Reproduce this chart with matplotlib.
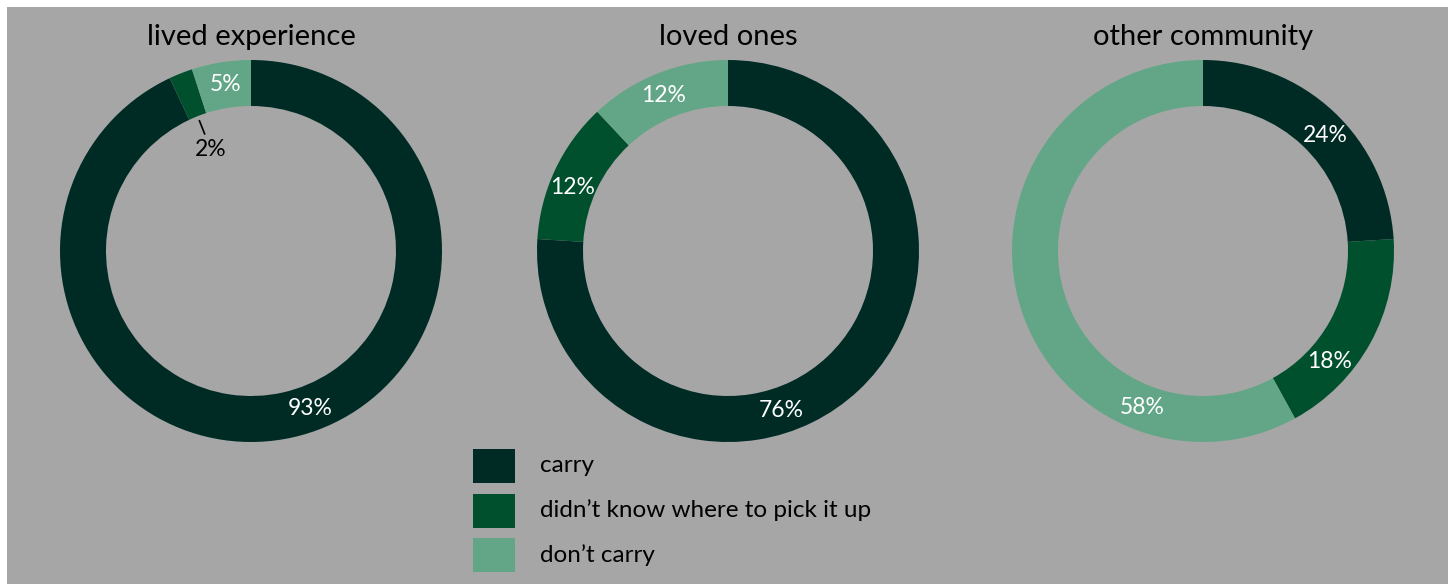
import numpy as np
import matplotlib
matplotlib.use('Agg')
import matplotlib.pyplot as plt
from matplotlib.patches import Rectangle

# survey groups and answer shares (percent)
groups = ['lived experience', 'loved ones', 'other community']
answers = ['carry', 'didn\u2019t know where to pick it up', 'don\u2019t carry']
carry = [93, 76, 24]
didnt_know = [2, 12, 18]
dont_carry = [5, 12, 58]

colors = ['#002B25', '#00502E', '#63A687']
bg = '#A6A6A6'

plt.rcParams['font.family'] = ['Lato', 'DejaVu Sans']

W, H = 1448, 584
fig = plt.figure(figsize=(W / 100, H / 100), dpi=100, facecolor='white')
ax = fig.add_axes([0, 0, 1, 1])
ax.set_xlim(0, W)
ax.set_ylim(0, H)
ax.set_aspect('equal')
ax.axis('off')

# grey panel behind everything
ax.add_patch(Rectangle((7, 0), W - 7, H - 7, facecolor=bg, edgecolor='none', zorder=0))

centers = [(251, H - 251), (728, H - 251), (1203, H - 251)]
R, ring = 191, 46
# where along each wedge the value label sits (0 = start, 1 = end)
label_frac = [[0.476, 0.5, 0.52], [0.59, 0.43, 0.48], [0.54, 0.69, 0.24]]

for i, name in enumerate(groups):
    vals = [carry[i], didnt_know[i], dont_carry[i]]
    cx, cy = centers[i]
    ax.pie(vals, colors=colors, startangle=90, counterclock=False,
           center=(cx, cy), radius=R, frame=True,
           wedgeprops=dict(width=ring, edgecolor='none', linewidth=0))
    ax.text(cx, H - 37, name, ha='center', va='center', fontsize=21, color='black')

    total = sum(vals)
    start = 0.0
    for j, v in enumerate(vals):
        span = 360.0 * v / total
        ang = np.deg2rad(start + span * label_frac[i][j])
        dx, dy = np.sin(ang), np.cos(ang)
        if v < 4:
            # small slice: label goes inside the hole with a leader line
            r_in = R - ring
            ax.plot([cx + dx * (r_in - 5), cx + dx * (r_in - 19)],
                    [cy + dy * (r_in - 5), cy + dy * (r_in - 19)],
                    color='black', lw=1.2, zorder=5)
            ax.text(cx + dx * (r_in - 36), cy + dy * (r_in - 36), f'{v}%',
                    ha='center', va='center', fontsize=16.5, color='black')
        else:
            rm = R - ring / 2
            ax.text(cx + dx * rm, cy + dy * rm, f'{v}%',
                    ha='center', va='center', fontsize=16.5, color='white')
        start += span

# legend boxes under the middle ring
for k, lab in enumerate(answers):
    y = H - 466 - k * 44.5
    ax.add_patch(Rectangle((473, y - 17), 42, 34, facecolor=colors[k],
                           edgecolor='none', zorder=3))
    ax.text(540, y, lab, ha='left', va='center', fontsize=17.5, color='black')

ax.set_xlim(0, W)
ax.set_ylim(0, H)
fig.savefig('out.png', dpi=100, facecolor='white')
